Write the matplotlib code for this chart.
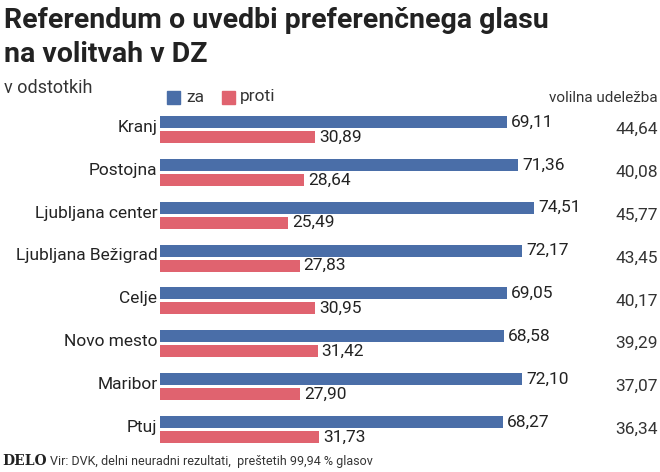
import matplotlib
matplotlib.use("Agg")
import matplotlib.pyplot as plt
from matplotlib.patches import Rectangle

categories = ["Kranj", "Postojna", "Ljubljana center", "Ljubljana Bežigrad", "Celje", "Novo mesto", "Maribor", "Ptuj"]
za = [69.11, 71.36, 74.51, 72.17, 69.05, 68.58, 72.10, 68.27]
proti = [30.89, 28.64, 25.49, 27.83, 30.95, 31.42, 27.90, 31.73]
udelezba = [44.64, 40.08, 45.77, 43.45, 40.17, 39.29, 37.07, 36.34]

W, H = 660, 472
fig = plt.figure(figsize=(W/100, H/100), dpi=100)
fam = "Roboto"
blue = "#4a6ea8"
red = "#e0636f"

ax = fig.add_axes([160/W, 1-450/H, 480/W, 340/H])
ax.set_xlim(0, 480/5.02)
ax.set_ylim(7.478, -0.455)
ax.axis("off")
ys = list(range(len(categories)))
ax.barh([y-0.175 for y in ys], za, height=0.28, color=blue)
ax.barh([y+0.175 for y in ys], proti, height=0.28, color=red)
for y, a, b, u, c in zip(ys, za, proti, udelezba, categories):
    ax.text(a+0.8, y-0.175, f"{a:.2f}".replace(".", ","), va="center", ha="left", fontsize=12.5, family=fam, color="#222")
    ax.text(b+0.8, y+0.175, f"{b:.2f}".replace(".", ","), va="center", ha="left", fontsize=12.5, family=fam, color="#222")
    ax.text(-0.5, y-0.05, c, va="center", ha="right", fontsize=12.5, family=fam, color="#222")
    fig.text(658/W, 1-(129.5+42.86*y)/H, f"{u:.2f}".replace(".", ","), va="center", ha="right", fontsize=12.5, family=fam, color="#333")

fig.text(4/W, 1-20/H, "Referendum o uvedbi preferenčnega glasu", fontsize=20.5, fontweight="bold", family=fam, va="center", color="#222")
fig.text(4/W, 1-54/H, "na volitvah v DZ", fontsize=20.5, fontweight="bold", family=fam, va="center", color="#222")
fig.text(4/W, 1-88/H, "v odstotkih", fontsize=13, family=fam, va="center", color="#333")
fig.patches.append(Rectangle((167/W, 1-104/H), 13/W, 13/H, color=blue, transform=fig.transFigure))
fig.text(186/W, 1-97/H, "za", fontsize=12.5, family=fam, va="center", color="#333")
fig.patches.append(Rectangle((222/W, 1-104/H), 13/W, 13/H, color=red, transform=fig.transFigure))
fig.text(240/W, 1-97/H, "proti", fontsize=12.5, family=fam, va="center", color="#333")
fig.text(658/W, 1-98/H, "volilna udeležba", fontsize=11, family=fam, va="center", ha="right", color="#333")
fig.text(2/W, 1-461/H, "DELO", fontsize=10, fontweight="bold", family="DejaVu Serif", va="center", color="#222")
fig.text(50/W, 1-461/H, "Vir: DVK, delni neuradni rezultati,  preštetih 99,94 % glasov", fontsize=9, family=fam, va="center", color="#333")

fig.savefig("out.png", dpi=100, facecolor="white")
